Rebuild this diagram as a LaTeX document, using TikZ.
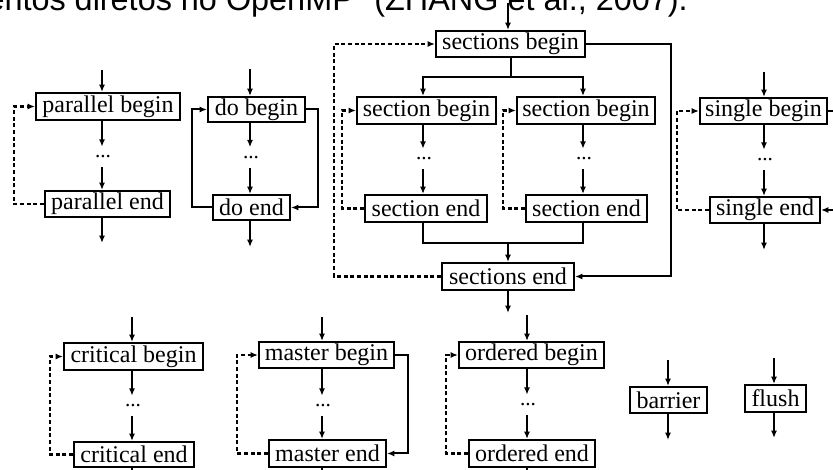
\documentclass[tikz,border=0pt]{standalone}
\usepackage{fontspec}
\setmainfont{Liberation Serif}
\newfontfamily\capfont{Liberation Sans}
\usetikzlibrary{arrows.meta}

\begin{document}
\begin{tikzpicture}[x=0.75pt,y=-0.75pt,
  box/.style={draw, line width=1.5pt, inner sep=0pt, fill=white,
    font=\fontsize{18}{21}\selectfont},
  bw/.style={minimum width=#1*0.75pt},
  bh/.style={minimum height=#1*0.75pt},
  dots/.style={inner sep=0pt, minimum height=20*0.75pt,
    font=\fontsize{16}{18}\selectfont},
  tip/.tip={Latex[length=5.5pt,width=4.5pt]},
  link/.style={line width=1.5pt},
  flow/.style={link, -tip},
  backflow/.style={line width=1.6pt, dash pattern=on 3pt off 2pt, -tip},
]
\clip (0,0) rectangle (833,470);

% caption line running off the top edge
\node[anchor=base east, inner sep=0pt, font=\capfont\fontsize{24.3}{29}\selectfont]
  (caption) at (688,11) {entos diretos no OpenMP" (ZHANG et al., 2007).};

% ---------------- parallel ----------------
\coordinate (px) at (102,0);
\coordinate (pl) at (14,0);
\coordinate (pin) at (102,70);
\coordinate (pout) at (102,243);
\node[box,bw=144,bh=27] (pb) at (108,106.5) {parallel begin};
\node[box,bw=125,bh=26] (pe) at (107.5,204) {parallel end};
\node[dots] (pd) at (103,157) {...};
\draw[flow] (pin) -- (pb.north -| px);
\draw[flow] (pb.south -| px) -- (pd.north -| px);
\draw[flow] (pd.south -| px) -- (pe.north -| px);
\draw[flow] (pe.south -| px) -- (pout);
\draw[backflow] (pe.west) -- (pe.west -| pl) -- (pb.west -| pl) -- (pb.west);

% ---------------- do ----------------
\coordinate (dx) at (250,0);
\coordinate (dl) at (192,0);
\coordinate (dr) at (318,0);
\coordinate (din) at (250,69);
\coordinate (dout) at (250,247);
\node[box,bw=97,bh=25] (db) at (256.5,109.5) {do begin};
\node[box,bw=77,bh=25] (de) at (251.5,207.5) {do end};
\node[dots] (dd) at (251,157.5) {...};
\draw[flow] (din) -- (db.north -| dx);
\draw[flow] (db.south -| dx) -- (dd.north -| dx);
\draw[flow] (dd.south -| dx) -- (de.north -| dx);
\draw[flow] (de.south -| dx) -- (dout);
\draw[flow] (de.west) -- (de.west -| dl) -- (db.west -| dl) -- (db.west);
\draw[flow] (db.east) -- (db.east -| dr) -- (de.east -| dr) -- (de.east);

% ---------------- sections ----------------
\coordinate (sx) at (508,0);
\coordinate (s1x) at (423,0);
\coordinate (s2x) at (583,0);
\coordinate (sl) at (334,0);
\coordinate (sr) at (671,0);
\coordinate (s1l) at (342,0);
\coordinate (s2l) at (503,0);
\coordinate (sin) at (508,3);
\coordinate (sout) at (508,313);
\coordinate (sj) at (511,77);
\coordinate (sm) at (508,243);
\node[box,bw=149,bh=26] (sb) at (510.5,44) {sections begin};
\node[box,bw=139,bh=27] (sc1b) at (426.5,110.5) {section begin};
\node[box,bw=138,bh=27] (sc2b) at (586,110.5) {section begin};
\node[box,bw=122,bh=27] (sc1e) at (426,208.5) {section end};
\node[box,bw=121,bh=27] (sc2e) at (586.5,208.5) {section end};
\node[box,bw=132,bh=27] (se) at (508,276.5) {sections end};
\node[dots] (sc1d) at (424,159) {...};
\node[dots] (sc2d) at (584,159) {...};
\draw[flow] (sin) -- (sb.north -| sx);
\draw[link] (sb.south -| sj) -- (sj);
\draw[flow] (sj) -| (sc1b.north -| s1x);
\draw[flow] (sj) -| (sc2b.north -| s2x);
\draw[flow] (sc1b.south -| s1x) -- (sc1d.north -| s1x);
\draw[flow] (sc1d.south -| s1x) -- (sc1e.north -| s1x);
\draw[flow] (sc2b.south -| s2x) -- (sc2d.north -| s2x);
\draw[flow] (sc2d.south -| s2x) -- (sc2e.north -| s2x);
\draw[link] (sc1e.south -| s1x) |- (sm);
\draw[link] (sc2e.south -| s2x) |- (sm);
\draw[flow] (sm) -- (se.north -| sm);
\draw[flow] (se.south -| sx) -- (sout);
\draw[flow] (sb.east) -- (sb.east -| sr) -- (se.east -| sr) -- (se.east);
\draw[backflow] (se.west) -- (se.west -| sl) -- (sb.west -| sl) -- (sb.west);
\draw[backflow] (sc1e.west) -- (sc1e.west -| s1l) -- (sc1b.west -| s1l) -- (sc1b.west);
\draw[backflow] (sc2e.west) -- (sc2e.west -| s2l) -- (sc2b.west -| s2l) -- (sc2b.west);

% ---------------- single ----------------
\coordinate (gx) at (764,0);
\coordinate (gl) at (677,0);
\coordinate (gr) at (840,0);
\coordinate (gin) at (764,72);
\coordinate (gout) at (764,250);
\node[box,bw=127,bh=26] (gb) at (763.5,111) {single begin};
\node[box,bw=110,bh=26] (ge) at (765,210) {single end};
\node[dots] (gd) at (765,160) {...};
\draw[flow] (gin) -- (gb.north -| gx);
\draw[flow] (gb.south -| gx) -- (gd.north -| gx);
\draw[flow] (gd.south -| gx) -- (ge.north -| gx);
\draw[flow] (ge.south -| gx) -- (gout);
\draw[backflow] (ge.west) -- (ge.west -| gl) -- (gb.west -| gl) -- (gb.west);
\draw[link] (gb.east) -- (gb.east -| gr);
\draw[flow] (ge.east -| gr) -- (ge.east);

% ---------------- critical ----------------
\coordinate (cx) at (132,0);
\coordinate (cl) at (50,0);
\coordinate (cin) at (132,317);
\coordinate (cout) at (132,480);
\node[box,bw=139,bh=27] (cb) at (133.5,356.5) {critical begin};
\node[box,bw=120,bh=25] (ce) at (134,454.5) {critical end};
\node[dots] (cd) at (133,406) {...};
\draw[flow] (cin) -- (cb.north -| cx);
\draw[flow] (cb.south -| cx) -- (cd.north -| cx);
\draw[flow] (cd.south -| cx) -- (ce.north -| cx);
\draw[link] (ce.south -| cx) -- (cout);
\draw[backflow] (ce.west) -- (ce.west -| cl) -- (cb.west -| cl) -- (cb.west);

% ---------------- master ----------------
\coordinate (mx) at (322,0);
\coordinate (ml) at (237,0);
\coordinate (mr) at (408,0);
\coordinate (min) at (322,317);
\coordinate (mout) at (322,480);
\node[box,bw=135,bh=26] (mb) at (326.5,355) {master begin};
\node[box,bw=117,bh=27] (me) at (327.5,453.5) {master end};
\node[dots] (md) at (323,406) {...};
\draw[flow] (min) -- (mb.north -| mx);
\draw[flow] (mb.south -| mx) -- (md.north -| mx);
\draw[flow] (md.south -| mx) -- (me.north -| mx);
\draw[link] (me.south -| mx) -- (mout);
\draw[backflow] (me.west) -- (me.west -| ml) -- (mb.west -| ml) -- (mb.west);
\draw[flow] (mb.east) -- (mb.east -| mr) -- (me.east -| mr) -- (me.east);

% ---------------- ordered ----------------
\coordinate (ox) at (527,0);
\coordinate (ol) at (446,0);
\coordinate (oin) at (527,315);
\coordinate (oout) at (527,480);
\node[box,bw=145,bh=26] (ob) at (531.5,355) {ordered begin};
\node[box,bw=126,bh=27] (oe) at (532,453.5) {ordered end};
\node[dots] (od) at (528,405) {...};
\draw[flow] (oin) -- (ob.north -| ox);
\draw[flow] (ob.south -| ox) -- (od.north -| ox);
\draw[flow] (od.south -| ox) -- (oe.north -| ox);
\draw[link] (oe.south -| ox) -- (oout);
\draw[backflow] (oe.west) -- (oe.west -| ol) -- (ob.west -| ol) -- (ob.west);

% ---------------- barrier and flush ----------------
\coordinate (bin) at (668,360);
\coordinate (bout) at (668,440);
\node[box,bw=77,bh=26] (bar) at (668.5,400) {barrier};
\draw[flow] (bin) -- (bar.north -| bin);
\draw[flow] (bar.south -| bout) -- (bout);

\coordinate (fin) at (774,358);
\coordinate (fout) at (774,438);
\node[box,bw=61,bh=27] (fl) at (775.5,398.5) {flush};
\draw[flow] (fin) -- (fl.north -| fin);
\draw[flow] (fl.south -| fout) -- (fout);
\end{tikzpicture}
\end{document}
